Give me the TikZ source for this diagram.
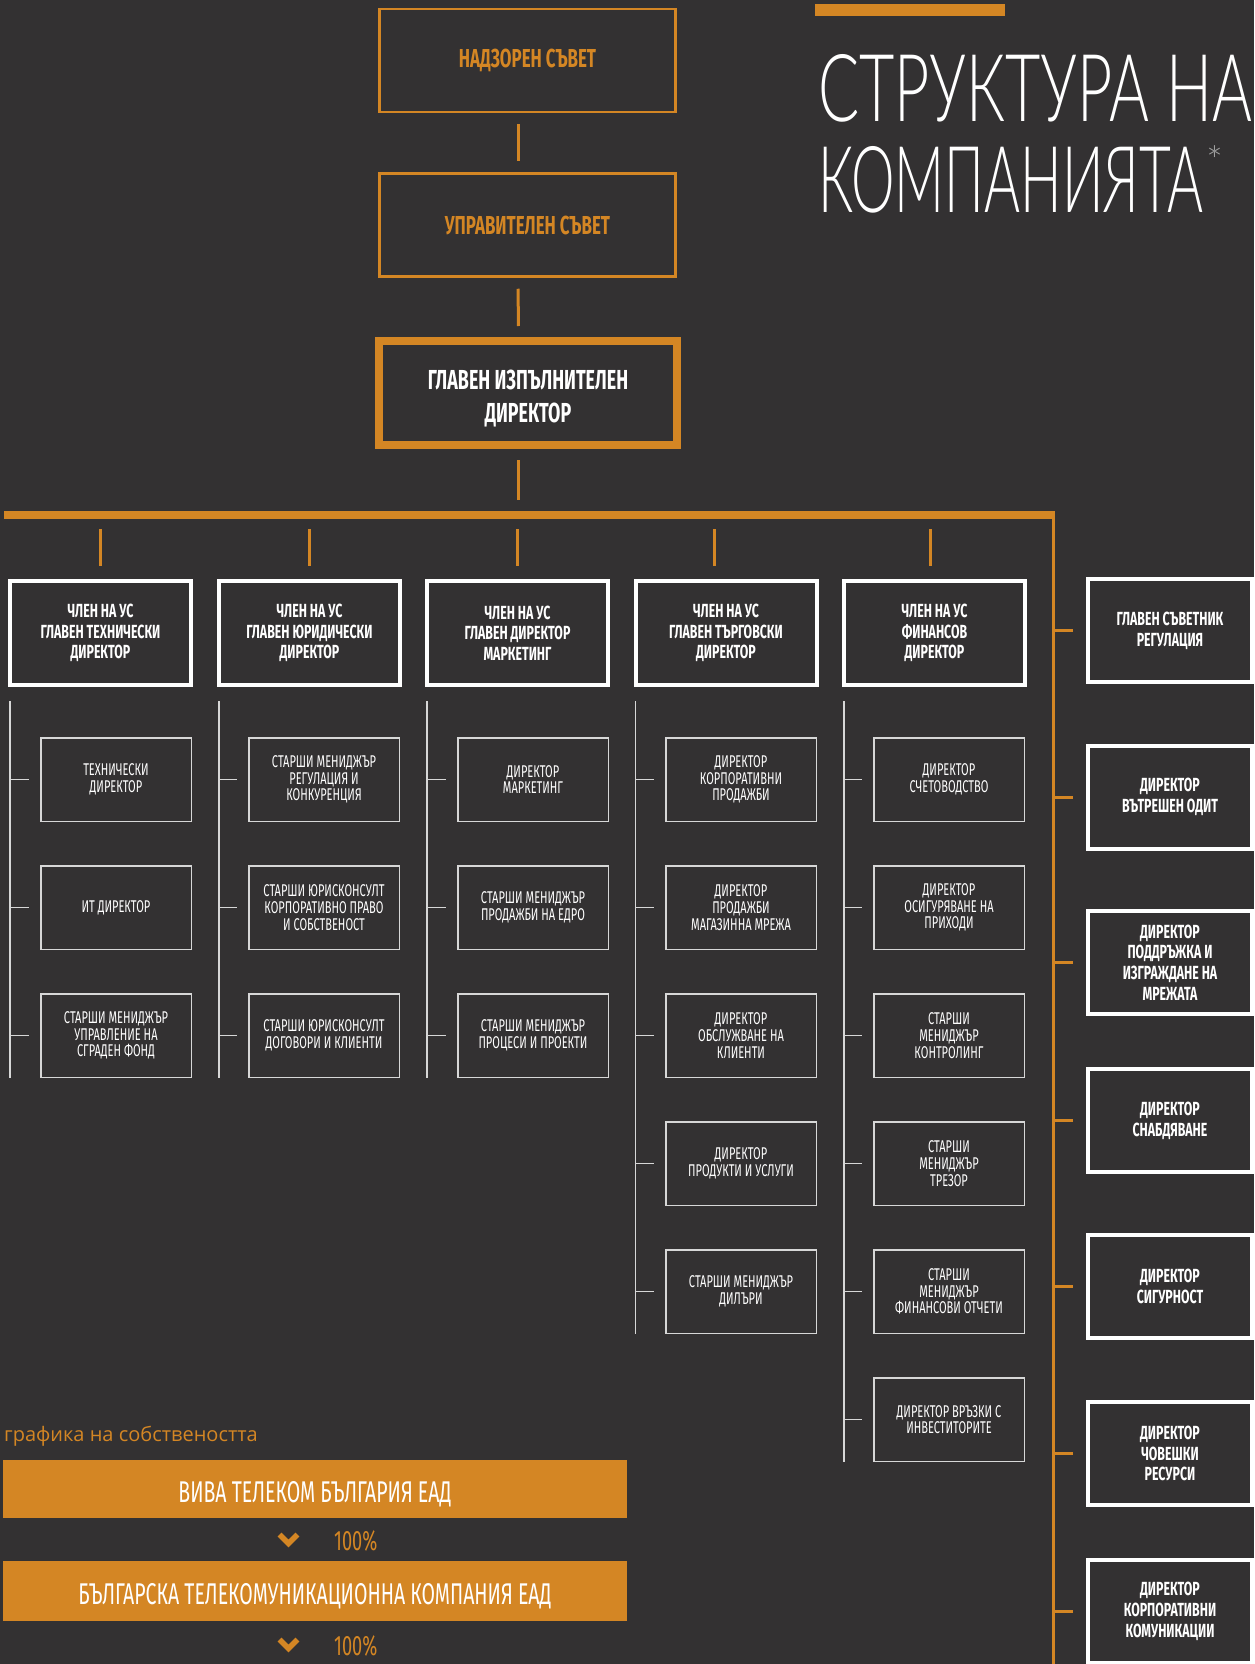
\documentclass[tikz,border=0pt]{standalone}
\usepackage{fontspec}
\usepackage{graphicx}
\usepackage{tikz}
\newfontfamily\condfont[FakeStretch=0.65]{Fira Sans}
\newfontfamily\ownerfont{Open Sans}
\IfFontExistsTF{Lato Light}{\newfontfamily\titlefont{Lato Light}}{%
  \IfFontExistsTF{Lato Thin}{\newfontfamily\titlefont{Lato Thin}}{%
    \IfFontExistsTF{Lato Hairline}{\newfontfamily\titlefont{Lato Hairline}}{\newfontfamily\titlefont{Lato}}}}
\definecolor{bgdark}{RGB}{51,49,50}
\definecolor{accent}{RGB}{212,134,36}
\definecolor{twiggrey}{RGB}{215,215,215}
\definecolor{stargrey}{RGB}{160,160,160}

\begin{document}
\begin{tikzpicture}[x=1pt,y=-1pt,
  boardbox/.style={draw=accent,line width=2.5pt,minimum width=296pt,minimum height=103pt,inner sep=0pt,text=accent,font=\condfont\bfseries\fontsize{26}{30}\selectfont},
  ceobox/.style={draw=accent,line width=8pt,minimum width=298pt,minimum height=104pt,inner sep=0pt,align=center,text=white,font=\condfont\bfseries\fontsize{27.5}{33}\selectfont},
  memberbox/.style={draw=white,line width=4pt,minimum width=181pt,minimum height=104pt,inner sep=0pt,align=center,text=white,font=\condfont\bfseries\fontsize{19}{20.7}\selectfont},
  sidebox/.style={memberbox,minimum width=164pt,minimum height=103pt},
  subbox/.style={draw=twiggrey,line width=1.5pt,minimum width=150.5pt,minimum height=83.5pt,inner sep=0pt,align=center,text=white,font=\condfont\fontsize{17}{16.7}\selectfont},
  ownbar/.style={fill=accent,minimum width=624pt,minimum height=58pt,inner sep=0pt,text height=27pt,text depth=0pt,text=white,font=\condfont\fontsize{30}{32}\selectfont},
  pct/.style={anchor=base west,inner sep=0pt,text=accent,font=\condfont\fontsize{28}{30}\selectfont},
  link/.style={accent,line width=3pt},
  twig/.style={twiggrey,line width=1.5pt},
  chevron/.style={accent,line width=5.5pt,miter limit=4}]
  \fill[bgdark] (0,0) rectangle (1254,1664);
  \useasboundingbox (0,0) rectangle (1254,1664);

  %% title
  \fill[accent] (815,4) rectangle (1005,16);
  \node[anchor=base west,inner sep=0pt,text=white] (title1) at (818,122) {\resizebox{434pt}{67pt}{\titlefont СТРУКТУРА НА}};
  \node[anchor=base west,inner sep=0pt,text=white] (title2) at (818,212) {\resizebox{385pt}{66pt}{\titlefont КОМПАНИЯТА}};
  \node[anchor=north,inner sep=0pt,text=stargrey,font=\titlefont\fontsize{40}{40}\selectfont] (star) at (1214.5,145) {*};

  %% boards and CEO
  \node[boardbox] (sup) at (527.5,60.5) {НАДЗОРЕН СЪВЕТ};
  \node[boardbox] (mgmt) at (527.5,225) {УПРАВИТЕЛЕН СЪВЕТ};
  \node[ceobox] (ceo) at (528,393) {\rule{0pt}{30pt}ГЛАВЕН ИЗПЪЛНИТЕЛЕН\\ДИРЕКТОР};
  \draw[link,shorten <=11pt,shorten >=11pt,transform canvas={xshift=-9.5pt}] (sup.south) -- (mgmt.north);
  \draw[link,shorten <=11pt,shorten >=11pt,transform canvas={xshift=-9.5pt}] (mgmt.south) -- (ceo.north);

  % main bar and right spine
  \coordinate (barL) at (4,515);
  \coordinate (barR) at (1054.5,515);
  \coordinate (spineTop) at (1053,511);
  \coordinate (spineEnd) at (1053,1664);
  \coordinate (ceoTap) at (518,515);
  \draw[accent,line width=8pt] (barL) -- (barR);
  \draw[link] (spineTop) -- (spineEnd);
  \draw[link,shorten <=11pt,shorten >=15pt] (ceo.south -| ceoTap) -- (ceoTap);

  %% board members
  \node[memberbox] (cto) at (100.5,633) {ЧЛЕН НА УС\\ГЛАВЕН ТЕХНИЧЕСКИ\\ДИРЕКТОР};
  \node[memberbox] (clo) at (309.5,633) {ЧЛЕН НА УС\\ГЛАВЕН ЮРИДИЧЕСКИ\\ДИРЕКТОР};
  \node[memberbox] (cmo) at (517.5,633) {ЧЛЕН НА УС\\ГЛАВЕН ДИРЕКТОР\\МАРКЕТИНГ};
  \node[memberbox] (cco) at (726,633) {ЧЛЕН НА УС\\ГЛАВЕН ТЪРГОВСКИ\\ДИРЕКТОР};
  \node[memberbox] (cfo) at (934.5,633) {ЧЛЕН НА УС\\ФИНАНСОВ\\ДИРЕКТОР};
  \draw[link,shorten <=14pt,shorten >=13pt] (cto.north |- barL) -- (cto.north);
  \draw[link,shorten <=14pt,shorten >=13pt] (clo.north |- barL) -- (clo.north);
  \draw[link,shorten <=14pt,shorten >=13pt] (cmo.north |- barL) -- (cmo.north);
  \draw[link,shorten <=14pt,shorten >=13pt,transform canvas={xshift=-12pt}] (cco.north |- barL) -- (cco.north);
  \draw[link,shorten <=14pt,shorten >=13pt,transform canvas={xshift=-4.5pt}] (cfo.north |- barL) -- (cfo.north);

  %% technical
  \node[subbox] (tech1) at (116,779.5) {ТЕХНИЧЕСКИ\\ДИРЕКТОР};
  \node[subbox] (tech2) at (116,907.5) {ИТ ДИРЕКТОР};
  \node[subbox] (tech3) at (116,1035.5) {СТАРШИ МЕНИДЖЪР\\УПРАВЛЕНИЕ НА\\СГРАДЕН ФОНД};
  %% legal
  \node[subbox] (legal1) at (324,779.5) {СТАРШИ МЕНИДЖЪР\\РЕГУЛАЦИЯ И\\КОНКУРЕНЦИЯ};
  \node[subbox] (legal2) at (324,907.5) {СТАРШИ ЮРИСКОНСУЛТ\\КОРПОРАТИВНО ПРАВО\\И СОБСТВЕНОСТ};
  \node[subbox] (legal3) at (324,1035.5) {СТАРШИ ЮРИСКОНСУЛТ\\ДОГОВОРИ И КЛИЕНТИ};
  %% marketing
  \node[subbox] (mkt1) at (533,779.5) {ДИРЕКТОР\\МАРКЕТИНГ};
  \node[subbox] (mkt2) at (533,907.5) {СТАРШИ МЕНИДЖЪР\\ПРОДАЖБИ НА ЕДРО};
  \node[subbox] (mkt3) at (533,1035.5) {СТАРШИ МЕНИДЖЪР\\ПРОЦЕСИ И ПРОЕКТИ};
  %% sales
  \node[subbox] (sales1) at (741,779.5) {ДИРЕКТОР\\КОРПОРАТИВНИ\\ПРОДАЖБИ};
  \node[subbox] (sales2) at (741,907.5) {ДИРЕКТОР\\ПРОДАЖБИ\\МАГАЗИННА МРЕЖА};
  \node[subbox] (sales3) at (741,1035.5) {ДИРЕКТОР\\ОБСЛУЖВАНЕ НА\\КЛИЕНТИ};
  \node[subbox] (sales4) at (741,1163.5) {ДИРЕКТОР\\ПРОДУКТИ И УСЛУГИ};
  \node[subbox] (sales5) at (741,1291.5) {СТАРШИ МЕНИДЖЪР\\ДИЛЪРИ};
  %% finance
  \node[subbox] (fin1) at (949,779.5) {ДИРЕКТОР\\СЧЕТОВОДСТВО};
  \node[subbox] (fin2) at (949,907.5) {ДИРЕКТОР\\ОСИГУРЯВАНЕ НА\\ПРИХОДИ};
  \node[subbox] (fin3) at (949,1035.5) {СТАРШИ\\МЕНИДЖЪР\\КОНТРОЛИНГ};
  \node[subbox] (fin4) at (949,1163.5) {СТАРШИ\\МЕНИДЖЪР\\ТРЕЗОР};
  \node[subbox] (fin5) at (949,1291.5) {СТАРШИ\\МЕНИДЖЪР\\ФИНАНСОВИ ОТЧЕТИ};
  \node[subbox] (fin6) at (949,1419.5) {ДИРЕКТОР ВРЪЗКИ С\\ИНВЕСТИТОРИТЕ};

  % column spines
  \draw[twig] ([xshift=2pt,yshift=-14pt]cto.south west) coordinate (techTop) -- (techTop |- tech3.south);
  \draw[twig] ([xshift=2pt,yshift=-14pt]clo.south west) coordinate (legalTop) -- (legalTop |- legal3.south);
  \draw[twig] ([xshift=2pt,yshift=-14pt]cmo.south west) coordinate (mktTop) -- (mktTop |- mkt3.south);
  \draw[twig] ([xshift=2pt,yshift=-14pt]cco.south west) coordinate (salesTop) -- (salesTop |- sales5.south);
  \draw[twig] ([xshift=2pt,yshift=-14pt]cfo.south west) coordinate (finTop) -- (finTop |- fin6.south);
  \foreach \s in {tech1,tech2,tech3}
    \draw[twig,shorten >=11pt] (techTop |- \s) -- (\s.west);
  \foreach \s in {legal1,legal2,legal3}
    \draw[twig,shorten >=11pt] (legalTop |- \s) -- (\s.west);
  \foreach \s in {mkt1,mkt2,mkt3}
    \draw[twig,shorten >=11pt] (mktTop |- \s) -- (\s.west);
  \foreach \s in {sales1,sales2,sales3,sales4,sales5}
    \draw[twig,shorten >=11pt] (salesTop |- \s) -- (\s.west);
  \foreach \s in {fin1,fin2,fin3,fin4,fin5,fin6}
    \draw[twig,shorten >=11pt] (finTop |- \s) -- (\s.west);

  %% staff directors on the right
  \node[sidebox] (reg) at (1170,630.5) {ГЛАВЕН СЪВЕТНИК\\РЕГУЛАЦИЯ};
  \node[sidebox] (audit) at (1170,797) {ДИРЕКТОР\\ВЪТРЕШЕН ОДИТ};
  \node[sidebox] (network) at (1170,962.5) {ДИРЕКТОР\\ПОДДРЪЖКА И\\ИЗГРАЖДАНЕ НА\\МРЕЖАТА};
  \node[sidebox] (supply) at (1170,1120.5) {ДИРЕКТОР\\СНАБДЯВАНЕ};
  \node[sidebox] (security) at (1170,1286.5) {ДИРЕКТОР\\СИГУРНОСТ};
  \node[sidebox] (hr) at (1170,1453.5) {ДИРЕКТОР\\ЧОВЕШКИ\\РЕСУРСИ};
  \node[sidebox] (comms) at (1170,1611.5) {ДИРЕКТОР\\КОРПОРАТИВНИ\\КОМУНИКАЦИИ};
  \foreach \s in {reg,audit,network,supply,security,hr,comms}
    \draw[link,shorten >=13pt] (spineTop |- \s) -- (\s.west);

  %% ownership chart
  \node[anchor=base west,inner sep=0pt,text=accent,font=\ownerfont\fontsize{20}{23}\selectfont] (ownlabel) at (4,1441) {графика на собствеността};
  \node[ownbar] (viva) at (315,1489) {ВИВА ТЕЛЕКОМ БЪЛГАРИЯ ЕАД};
  \node[ownbar,minimum height=60pt] (btc) at (315,1591) {БЪЛГАРСКА ТЕЛЕКОМУНИКАЦИОННА КОМПАНИЯ ЕАД};
  \draw[chevron] (279.5,1534.5) -- (288.5,1543.5) -- (297.5,1534.5);
  \node[pct] (pct1) at (334,1550) {100\%};
  \draw[chevron] (279.5,1639.5) -- (288.5,1648.5) -- (297.5,1639.5);
  \node[pct] (pct2) at (334,1655) {100\%};
\end{tikzpicture}
\end{document}
